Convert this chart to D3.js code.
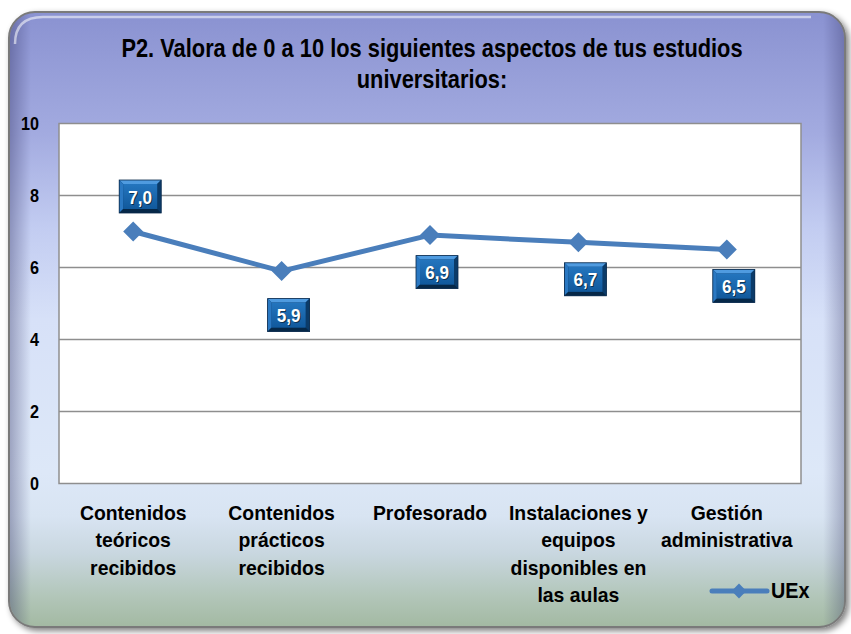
<!DOCTYPE html>
<html>
<head>
<meta charset="utf-8">
<script src="https://cdn.jsdelivr.net/npm/d3@7"></script>
<style>
  html, body { margin: 0; padding: 0; background: #ffffff; }
  svg { display: block; }
  text { font-family: "Liberation Sans", Arial, sans-serif; font-weight: bold; }
</style>
</head>
<body>
<div id="chart"></div>
<script>
// ---------- data ----------
const titleLines = ["P2. Valora de 0 a 10 los siguientes aspectos de tus estudios", "universitarios:"];
const categories = [
  "Contenidos\nteóricos\nrecibidos",
  "Contenidos\nprácticos\nrecibidos",
  "Profesorado",
  "Instalaciones y\nequipos\ndisponibles en\nlas aulas",
  "Gestión\nadministrativa"
];
const values = [7.0, 5.9, 6.9, 6.7, 6.5];
const seriesName = "UEx";
const yTicks = [0, 2, 4, 6, 8, 10];
const labelPlacement = ["above", "below", "below", "below", "below"];

// ---------- layout / style ----------
const W = 851, H = 634;
const plot = { left: 59, right: 801, top: 123.5, bottom: 483.5 };
const lineColor = "#4a7ebb";
const labelOffsetAbove = -35, labelOffsetBelow = [0, 44, 37, 37, 36.5];

const svg = d3.select("#chart").append("svg").attr("width", W).attr("height", H);
const defs = svg.append("defs");

// background gradient
const bg = defs.append("linearGradient").attr("id", "bgGrad").attr("x1", 0).attr("y1", 0).attr("x2", 0).attr("y2", 1);
[[0, "#8a92d1"], [0.2, "#a3abe0"], [0.35, "#c2ccf1"], [0.5, "#d7e1f8"], [0.75, "#dde8f8"],
 [0.82, "#d8e4f2"], [0.88, "#c9d7e0"], [0.95, "#b2c6b9"], [1, "#a3b9a2"]]
  .forEach(([o, c]) => bg.append("stop").attr("offset", o).attr("stop-color", c));

const side = defs.append("linearGradient").attr("id", "sideGrad").attr("x1", 0).attr("y1", 0).attr("x2", 1).attr("y2", 0);
[[0, "rgba(40,40,90,0.35)"], [0.025, "rgba(40,40,90,0.0)"], [0.975, "rgba(40,40,90,0.0)"], [1, "rgba(40,40,90,0.3)"]]
  .forEach(([o, c]) => side.append("stop").attr("offset", o).attr("stop-color", c));

const shadow = defs.append("filter").attr("id", "shadow").attr("x", "-5%").attr("y", "-5%").attr("width", "110%").attr("height", "110%");
shadow.append("feGaussianBlur").attr("in", "SourceAlpha").attr("stdDeviation", 3);
shadow.append("feOffset").attr("dx", 3).attr("dy", 3).attr("result", "b");
shadow.append("feComponentTransfer").append("feFuncA").attr("type", "linear").attr("slope", 0.5);
const fm = shadow.append("feMerge");
fm.append("feMergeNode");
fm.append("feMergeNode").attr("in", "SourceGraphic");

const lblGrad = defs.append("linearGradient").attr("id", "lblGrad").attr("x1", 0).attr("y1", 0).attr("x2", 0).attr("y2", 1);
lblGrad.append("stop").attr("offset", 0).attr("stop-color", "#2475be");
lblGrad.append("stop").attr("offset", 1).attr("stop-color", "#11599c");

// frame
const frame = { x: 9, y: 12, w: 836, h: 615, r: 26 };
svg.append("rect").attr("x", frame.x).attr("y", frame.y).attr("width", frame.w).attr("height", frame.h)
  .attr("rx", frame.r).attr("fill", "url(#bgGrad)").attr("stroke", "#7a7a7a").attr("stroke-width", 2)
  .attr("filter", "url(#shadow)");
svg.append("rect").attr("x", frame.x + 1).attr("y", frame.y + 1).attr("width", frame.w - 2).attr("height", frame.h - 2)
  .attr("rx", frame.r - 1).attr("fill", "url(#sideGrad)");
// top highlight
svg.append("path")
  .attr("d", `M${frame.x + 6},${frame.y + 32} Q${frame.x + 6},${frame.y + 5} ${frame.x + 34},${frame.y + 5} L${frame.x + frame.w - 34},${frame.y + 5}`)
  .attr("fill", "none").attr("stroke", "rgba(255,255,255,0.55)").attr("stroke-width", 2.5);

// title
const titleG = svg.append("g");
titleLines.forEach((t, i) => {
  titleG.append("text")
    .attr("transform", `translate(432,${57 + i * 31}) scale(0.84,1)`)
    .attr("text-anchor", "middle").attr("font-size", 26).attr("fill", "#000")
    .text(t);
});

// scales
const x = d3.scaleBand().domain(categories).range([plot.left, plot.right]);
const y = d3.scaleLinear().domain([0, 10]).range([plot.bottom, plot.top]);

// plot area
svg.append("rect").attr("x", plot.left).attr("y", plot.top)
  .attr("width", plot.right - plot.left).attr("height", plot.bottom - plot.top)
  .attr("fill", "#ffffff").attr("stroke", "#8e8e8e").attr("stroke-width", 1.5);

// gridlines
svg.append("g").selectAll("line").data(yTicks.filter(d => d > 0 && d < 10)).join("line")
  .attr("x1", plot.left).attr("x2", plot.right)
  .attr("y1", d => y(d)).attr("y2", d => y(d))
  .attr("stroke", "#8e8e8e").attr("stroke-width", 1.5);

// y axis labels
const yAxis = d3.axisLeft(y).tickValues(yTicks).tickSize(0).tickPadding(0).tickFormat(d3.format("d"));
const yg = svg.append("g").attr("transform", `translate(39,0)`).call(yAxis);
yg.select(".domain").remove();
yg.selectAll("text").attr("font-size", 18).attr("fill", "#000")
  .attr("font-family", "'Liberation Sans', Arial, sans-serif").attr("font-weight", "bold")
  .attr("x", null).attr("dy", "0.36em")
  .attr("transform", "scale(0.9,1)");

// x category labels
const xg = svg.append("g");
categories.forEach(c => {
  const lines = c.split("\n");
  const cx = x(c) + x.bandwidth() / 2;
  const t = xg.append("text").attr("text-anchor", "middle").attr("font-size", 20).attr("fill", "#000")
    .attr("transform", `translate(${cx},520) scale(0.97,1)`);
  lines.forEach((l, i) => t.append("tspan").attr("x", 0).attr("y", i * 27.5).text(l));
});

// line
const pts = values.map((v, i) => [x(categories[i]) + x.bandwidth() / 2, y(v)]);
svg.append("path").datum(values)
  .attr("d", d3.line().x((d, i) => x(categories[i]) + x.bandwidth() / 2).y(d => y(d)))
  .attr("fill", "none").attr("stroke", lineColor).attr("stroke-width", 5).attr("stroke-linejoin", "round");

const diamond = d3.symbol(d3.symbolSquare, 200);
svg.append("g").selectAll("path").data(values).join("path")
  .attr("d", diamond)
  .attr("transform", (d, i) => `translate(${x(categories[i]) + x.bandwidth() / 2},${y(d)}) rotate(45)`)
  .attr("fill", lineColor);

// data labels
const fmt = v => v.toFixed(1).replace(".", ",");
const lg = svg.append("g");
values.forEach((v, i) => {
  const px = x(categories[i]) + x.bandwidth() / 2 + 7;
  const py = y(v) + (labelPlacement[i] === "above" ? labelOffsetAbove : labelOffsetBelow[i]);
  const g = lg.append("g").attr("transform", `translate(${px},${py})`);
  const w = 21, h = 16.5, b = 4;
  g.append("rect").attr("x", -w).attr("y", -h).attr("width", 2 * w).attr("height", 2 * h).attr("fill", "#0a3d70");
  g.append("polygon").attr("points", `${-w},${-h} ${w},${-h} ${w - b},${-h + b} ${-w + b},${-h + b}`).attr("fill", "#4f9be0");
  g.append("polygon").attr("points", `${-w},${-h} ${-w + b},${-h + b} ${-w + b},${h - b} ${-w},${h}`).attr("fill", "#2a78c2");
  g.append("polygon").attr("points", `${w},${-h} ${w},${h} ${w - b},${h - b} ${w - b},${-h + b}`).attr("fill", "#0b3b69");
  g.append("polygon").attr("points", `${-w},${h} ${w},${h} ${w - b},${h - b} ${-w + b},${h - b}`).attr("fill", "#062848");
  g.append("rect").attr("x", -w + b).attr("y", -h + b).attr("width", 2 * (w - b)).attr("height", 2 * (h - b)).attr("fill", "url(#lblGrad)");
  g.append("rect").attr("x", -w).attr("y", -h).attr("width", 2 * w).attr("height", 2 * h).attr("fill", "none")
    .attr("stroke", "#0a2a4c").attr("stroke-width", 0.8);
  g.append("text").attr("text-anchor", "middle").attr("font-size", 19).attr("fill", "#000").attr("opacity", 0.5)
    .attr("transform", "translate(1,8) scale(0.9,1)").text(fmt(v));
  g.append("text").attr("text-anchor", "middle").attr("font-size", 19).attr("fill", "#fff")
    .attr("transform", "translate(0,7) scale(0.9,1)").text(fmt(v));
});

// legend
const leg = svg.append("g");
leg.append("line").attr("x1", 712).attr("x2", 767).attr("y1", 591).attr("y2", 591)
  .attr("stroke", lineColor).attr("stroke-width", 5).attr("stroke-linecap", "round");
leg.append("path").attr("d", d3.symbol(d3.symbolSquare, 110)).attr("transform", "translate(739,591) rotate(45)").attr("fill", lineColor);
leg.append("text").attr("transform", "translate(771,598) scale(0.9,1)").attr("font-size", 22).attr("fill", "#000").text(seriesName);
</script>
</body>
</html>
